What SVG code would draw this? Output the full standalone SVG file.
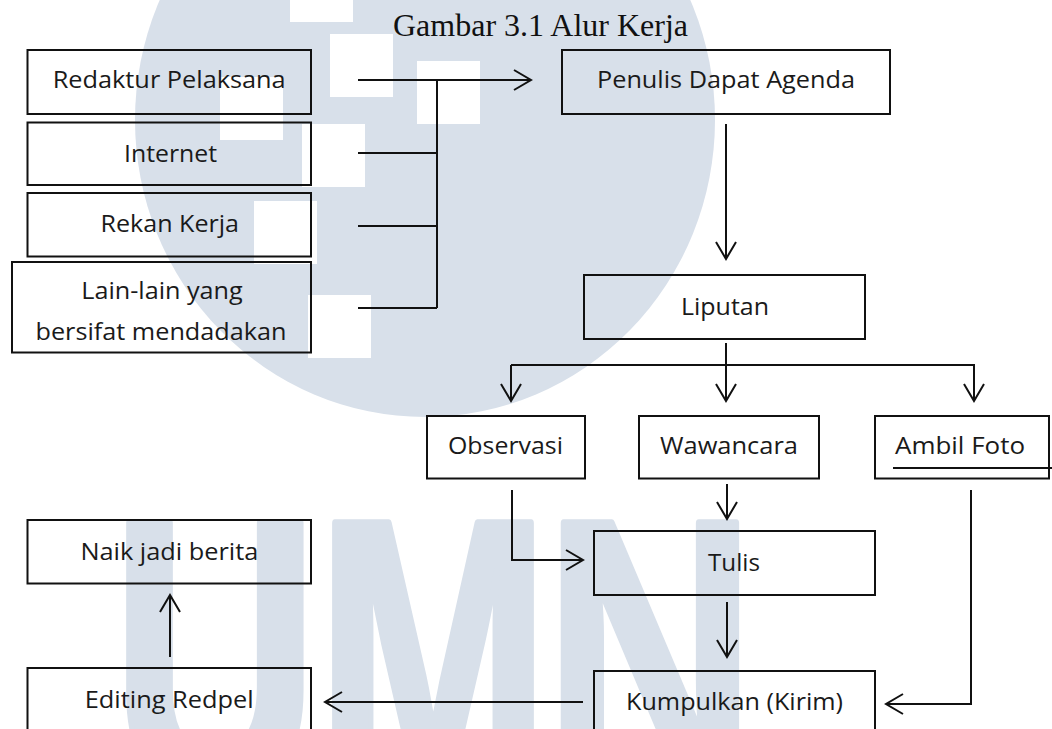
<svg xmlns="http://www.w3.org/2000/svg" width="1052" height="729" viewBox="0 0 1052 729">
<style>
.box{fill:none;stroke:#111;stroke-width:2}
.lbl{font-family:"Open Sans","Noto Sans",sans-serif;font-size:24px;fill:#1a1a1a;text-anchor:middle}
.ttl{font-family:"Liberation Serif","Times New Roman",serif;font-size:32px;fill:#111}
.ln{fill:none;stroke:#111;stroke-width:2}
.wm{fill:#d8e0ea}
.sq{fill:#fff}
.wmt{font-family:"Liberation Sans",Arial,sans-serif;font-weight:bold;font-size:260px;fill:#d8e0ea;stroke:#d8e0ea;stroke-width:5;stroke-linejoin:round;text-anchor:middle}
</style>
<defs>
<marker id="ah" markerUnits="userSpaceOnUse" viewBox="0 0 20 24" refX="18" refY="12" markerWidth="20" markerHeight="24" orient="auto">
<path d="M1,2 L18,12 L1,22" fill="none" stroke="#111" stroke-width="2"/>
</marker>
</defs>
<rect width="1052" height="729" fill="#fff"/>
<g id="watermark">
<ellipse class="wm" cx="425" cy="120" rx="290" ry="297"/>
<rect class="sq" x="290" y="-41" width="63" height="63"/>
<rect class="sq" x="330" y="34" width="63" height="63"/>
<rect class="sq" x="417" y="61" width="63" height="63"/>
<rect class="sq" x="220" y="77" width="63" height="63"/>
<rect class="sq" x="302" y="124" width="63" height="63"/>
<rect class="sq" x="254" y="201" width="63" height="63"/>
<rect class="sq" x="308" y="295" width="63" height="63"/>
<text class="wmt" transform="translate(215,795) scale(1.1,1.52)">U</text>
<text class="wmt" transform="translate(433,795) scale(1.08,1.52)">M</text>
<text class="wmt" transform="translate(650,795) scale(1.13,1.52)">N</text>
</g>
<text class="ttl" x="393" y="36">Gambar 3.1 Alur Kerja</text>
<g id="connectors">
<path class="ln" d="M358,80 H531" marker-end="url(#ah)"/>
<path class="ln" d="M358,153 H437 M358,226 H437 M358,308 H437 M437,80 V308"/>
<path class="ln" d="M726,124 V259" marker-end="url(#ah)"/>
<path class="ln" d="M726,343 V401" marker-end="url(#ah)"/>
<path class="ln" d="M511,365 H975"/>
<path class="ln" d="M511,365 V401" marker-end="url(#ah)"/>
<path class="ln" d="M974,365 V401" marker-end="url(#ah)"/>
<path class="ln" d="M727,484 V519" marker-end="url(#ah)"/>
<path class="ln" d="M512,490 V560 H583" marker-end="url(#ah)"/>
<path class="ln" d="M727,602 V657" marker-end="url(#ah)"/>
<path class="ln" d="M971,490 V704 H886" marker-end="url(#ah)"/>
<path class="ln" d="M583,702 H325" marker-end="url(#ah)"/>
<path class="ln" d="M170,657 V595" marker-end="url(#ah)"/>
</g>
<g id="n-redaktur"><rect class="box" x="27.5" y="50" width="283.5" height="64"/><text class="lbl" x="169.2" y="88" textLength="233" lengthAdjust="spacingAndGlyphs">Redaktur Pelaksana</text></g>
<g id="n-internet"><rect class="box" x="27.5" y="122.5" width="283.5" height="62.5"/><text class="lbl" x="170.5" y="161.5" textLength="93" lengthAdjust="spacingAndGlyphs">Internet</text></g>
<g id="n-rekan"><rect class="box" x="27.5" y="193" width="283.5" height="63.5"/><text class="lbl" x="169.8" y="231.5" textLength="138.5" lengthAdjust="spacingAndGlyphs">Rekan Kerja</text></g>
<g id="n-lain"><rect class="box" x="12" y="262" width="299" height="90.5"/><text class="lbl" x="162" y="299" textLength="161.5" lengthAdjust="spacingAndGlyphs">Lain-lain yang</text><text class="lbl" x="161" y="340" textLength="251" lengthAdjust="spacingAndGlyphs">bersifat mendadakan</text></g>
<g id="n-penulis"><rect class="box" x="562" y="50" width="328" height="64"/><text class="lbl" x="726" y="88" textLength="258" lengthAdjust="spacingAndGlyphs">Penulis Dapat Agenda</text></g>
<g id="n-liputan"><rect class="box" x="584" y="275" width="281" height="64"/><text class="lbl" x="725" y="314.5" textLength="88" lengthAdjust="spacingAndGlyphs">Liputan</text></g>
<g id="n-observasi"><rect class="box" x="427" y="416" width="158" height="62.5"/><text class="lbl" x="505.5" y="453.5" textLength="115" lengthAdjust="spacingAndGlyphs">Observasi</text></g>
<g id="n-wawancara"><rect class="box" x="639" y="416" width="180" height="62.5"/><text class="lbl" x="729" y="453.5" textLength="138" lengthAdjust="spacingAndGlyphs">Wawancara</text></g>
<g id="n-ambil"><rect class="box" x="875" y="416" width="174" height="62.5"/><text class="lbl" x="960" y="453.5" textLength="130" lengthAdjust="spacingAndGlyphs">Ambil Foto</text><line x1="893" y1="468" x2="1052" y2="468" stroke="#111" stroke-width="2"/></g>
<g id="n-tulis"><rect class="box" x="594" y="531" width="281" height="64"/><text class="lbl" x="734" y="571" textLength="52" lengthAdjust="spacingAndGlyphs">Tulis</text></g>
<g id="n-kumpulkan"><rect class="box" x="594" y="671" width="281" height="70"/><text class="lbl" x="734.5" y="710" textLength="217" lengthAdjust="spacingAndGlyphs">Kumpulkan (Kirim)</text></g>
<g id="n-naik"><rect class="box" x="27.5" y="520" width="283.5" height="63.5"/><text class="lbl" x="169.4" y="560" textLength="178" lengthAdjust="spacingAndGlyphs">Naik jadi berita</text></g>
<g id="n-editing"><rect class="box" x="27.5" y="668" width="283.5" height="72"/><text class="lbl" x="169.2" y="708" textLength="169" lengthAdjust="spacingAndGlyphs">Editing Redpel</text></g>
</svg>
